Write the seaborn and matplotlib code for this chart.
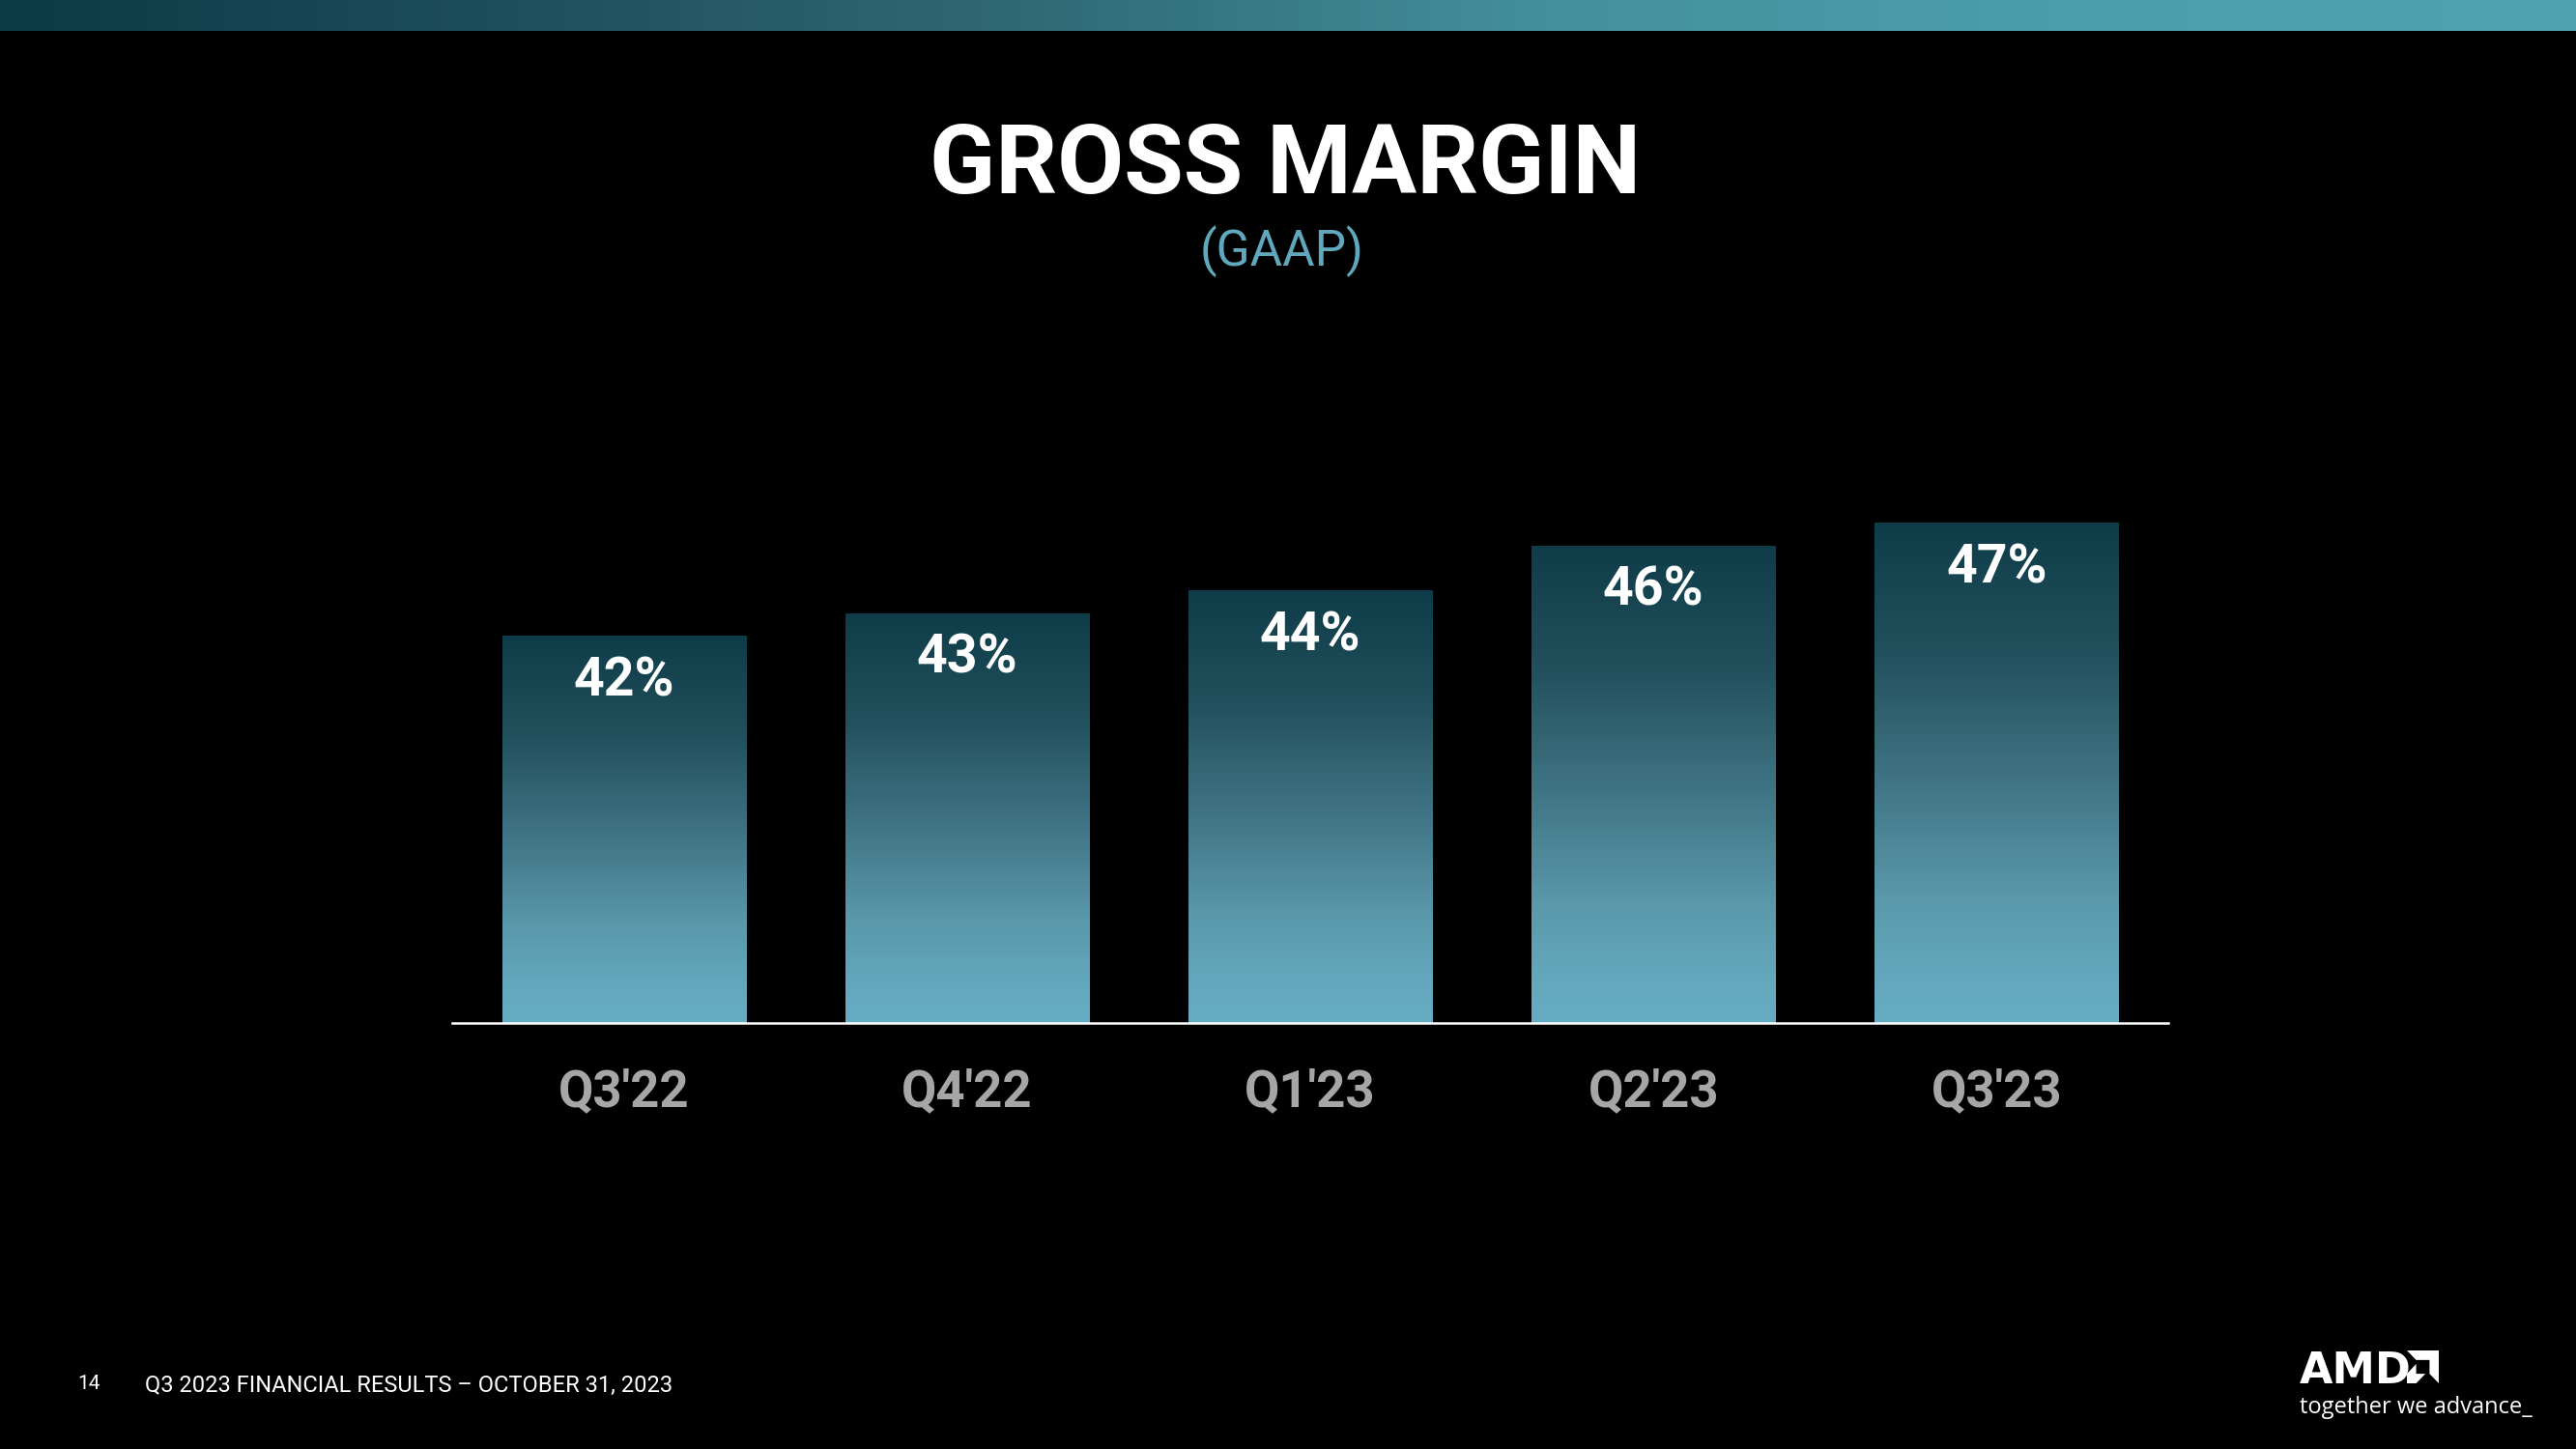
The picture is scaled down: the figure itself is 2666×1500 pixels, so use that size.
import numpy as np
import pandas as pd
import matplotlib.pyplot as plt
import seaborn as sns
from matplotlib.colors import LinearSegmentedColormap
from matplotlib.patches import Polygon

# Data
quarters = ["Q3'22", "Q4'22", "Q1'23", "Q2'23", "Q3'23"]
gross_margin = [42, 43, 44, 46, 47]

sns.set_theme(style="white")
plt.rcParams["font.family"] = ["Roboto", "DejaVu Sans"]

W, H = 2666, 1500

bar_cmap = LinearSegmentedColormap.from_list(
    "bar",
    [(0.0, "#0e3c49"), (0.25, "#214f5c"), (0.5, "#3e7282"),
     (0.75, "#5a98aa"), (0.9, "#63a7bc"), (1.0, "#66adc3")],
)
banner_cmap = LinearSegmentedColormap.from_list(
    "banner",
    [(0.0, "#0b3a46"), (0.2, "#1e4f5c"), (0.4, "#306a75"),
     (0.6, "#43909c"), (0.8, "#4a9fab"), (1.0, "#4ea3b1")],
)

fig = plt.figure(figsize=(W / 100, H / 100), dpi=100, facecolor="black")

# top banner strip
banner = fig.add_axes([0, 1 - 32 / H, 1, 32 / H])
banner.imshow(np.linspace(0, 1, 512)[None, :], cmap=banner_cmap, aspect="auto",
              extent=[0, 1, 0, 1])
banner.axis("off")

# main bar chart
ax = fig.add_axes([468 / W, 441 / H, 1776 / W, 588 / H])
ax.set_facecolor("black")
df = pd.DataFrame({"quarter": quarters, "margin": gross_margin})
sns.barplot(data=df, x="quarter", y="margin", width=0.71, color="#3e7282",
            saturation=1, ax=ax)

# vertical gradient fill, clipped to each bar
y_low, y_high = 24.86, 50
for patch in ax.patches:
    x0 = patch.get_x()
    top = patch.get_y() + patch.get_height()
    im = ax.imshow(np.linspace(0, 1, 256)[:, None], cmap=bar_cmap, aspect="auto",
                   extent=[x0, x0 + patch.get_width(), y_low, top],
                   origin="upper", zorder=2)
    im.set_clip_path(patch)
    patch.set_facecolor("none")
    patch.set_edgecolor("none")

ax.set_xlim(-0.5, len(quarters) - 0.5)
ax.set_ylim(y_low, y_high)

for i, v in enumerate(gross_margin):
    ax.annotate(f"{v}%", xy=(i, v), xytext=(0, -44.6),
                textcoords="offset points", ha="center", va="baseline",
                fontsize=40, fontweight="bold", color="white", zorder=5)

for side in ["top", "left", "right"]:
    ax.spines[side].set_visible(False)
ax.spines["bottom"].set_color("white")
ax.spines["bottom"].set_linewidth(1.8)
ax.spines["bottom"].set_zorder(6)
ax.set_yticks([])
ax.set_xticks(range(len(quarters)))
ax.set_xticklabels(quarters, fontsize=38, fontweight="bold", color="#a6a6a6")
ax.tick_params(axis="x", length=0, pad=33)
ax.set_xlabel("")
ax.set_ylabel("")

# titles
fig.text(1330 / W, 1 - 200 / H, "GROSS MARGIN", ha="center", va="baseline",
         fontsize=72, fontweight="bold", color="white")
fig.text(1327 / W, 1 - 275 / H, "(GAAP)", ha="center", va="baseline",
         fontsize=37, fontweight="normal", color="#5fa8bd")

# footer
fig.text(80 / W, 1 - 1438 / H, "14", ha="left", va="baseline", fontsize=15,
         color="white")
fig.text(150 / W, 1 - 1441 / H, "Q3 2023 FINANCIAL RESULTS \u2013 OCTOBER 31, 2023",
         ha="left", va="baseline", fontsize=17, color="white")

# logo
fig.text(2380 / W, 1 - 1432 / H, "AMD", ha="left", va="baseline", fontsize=32,
         fontweight="bold", color="white", family="DejaVu Sans")
logo = fig.add_axes([2491 / W, 1 - 1432 / H, 33 / W, 34 / H])
logo.set_xlim(0, 100)
logo.set_ylim(100, 0)
logo.axis("off")
logo.add_patch(Polygon([(0, 0), (100, 0), (100, 100), (71, 71), (71, 29), (29, 29)],
                       closed=True, color="white", lw=0))
logo.add_patch(Polygon([(29, 71), (29, 41), (0, 71), (0, 100), (29, 100), (58, 71)],
                       closed=True, color="white", lw=0))
fig.text(2380 / W, 1 - 1463 / H, "together we advance_", ha="left", va="baseline",
         fontsize=17, color="white", family="Open Sans")

fig.savefig("out.png", dpi=100, facecolor="black")
